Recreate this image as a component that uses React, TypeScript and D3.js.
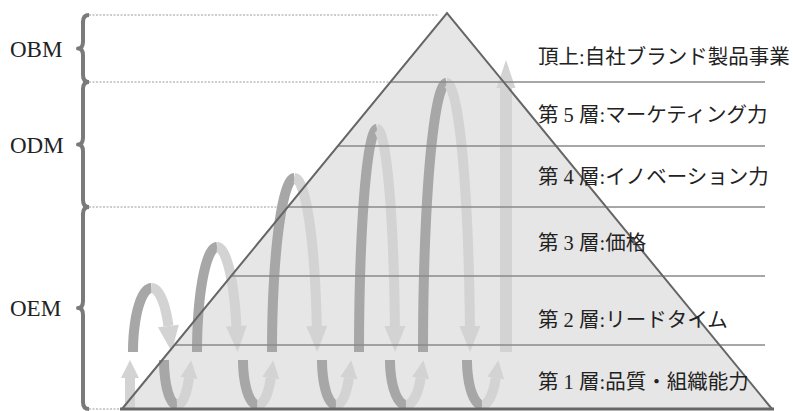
import React from "react";
import * as d3 from "d3";

const W = 793;
const H = 411;

// pyramid layers (heights above base, in diagram units)
const layerBoundaries = [64, 133, 202, 263, 327];
const layerLabels = [
  "第 1 層:品質・組織能力",
  "第 2 層:リードタイム",
  "第 3 層:価格",
  "第 4 層:イノベーション力",
  "第 5 層:マーケティング力",
  "頂上:自社ブランド製品事業",
];
const layerLabelLevels = [27, 89, 166, 232, 294, 352];

// business-model tiers on the left
const tierNames = ["OBM", "ODM", "OEM"];
const tierTops = [394, 327, 202];
const tierBottoms = [327, 202, 0];

// spiral loops: left leg x, right leg x, top level
const loopLeft = [11, 75, 150, 237, 301];
const loopRight = [48, 115, 195, 273, 348];
const loopTop = [121, 162, 231, 280, 326];
const loopBase = 57;

// bottom U-turns: dark (down) x, light (up) x
const uDown = [42, 121, 200, 268, 345];
const uUp = [68, 150, 228, 300, 375];
const uTop = 49;
const uBottom = 4;

// straight arrows
const startArrowX = 8;
const finalArrowX = 384;
const finalArrowTop = 349;

const DARK = "#a7a7a7";
const LIGHT = "#d3d3d3";
const SW = 10;

const x = d3.scaleLinear().domain([0, 650]).range([122, 772]);
const y = d3.scaleLinear().domain([0, 396]).range([409, 13]);
const apex = { x: x(325), y: y(396) };

function leftEdgeX(py: number) {
  const t = (py - apex.y) / (y(0) - apex.y);
  return apex.x + (x(0) - apex.x) * t;
}

const line = d3.line<[number, number]>();

function head(tipX: number, tipY: number, dirX: number, dirY: number, len: number, wid: number) {
  const n = Math.hypot(dirX, dirY);
  const ux = dirX / n, uy = dirY / n;
  const bx = tipX - ux * len, by = tipY - uy * len;
  const px = -uy, py = ux;
  return `M${tipX},${tipY}L${bx + px * wid / 2},${by + py * wid / 2}L${bx - px * wid / 2},${by - py * wid / 2}Z`;
}

function Loop({ i }: { i: number }) {
  const xl = x(loopLeft[i]), xr = x(loopRight[i]);
  const yb = y(loopBase), yt = y(loopTop[i]);
  const cx = (xl + xr) / 2, a = (xr - xl) / 2, h = yb - yt;
  const headLen = 26;
  const dark: [number, number][] = d3.range(0, 51).map((k) => {
    const th = (k / 50) * (Math.PI / 2);
    return [cx - a * Math.cos(th), yb - h * Math.sin(th)];
  });
  const thEnd = Math.PI - Math.asin(headLen / h);
  const light: [number, number][] = d3.range(0, 51).map((k) => {
    const th = Math.PI / 2 + (k / 50) * (thEnd - Math.PI / 2);
    return [cx - a * Math.cos(th), yb - h * Math.sin(th)];
  });
  const end = light[light.length - 1];
  const dx = a * Math.sin(thEnd), dy = -h * Math.cos(thEnd);
  const n = Math.hypot(dx, dy);
  const tip: [number, number] = [end[0] + (dx / n) * headLen, end[1] + (dy / n) * headLen];
  return (
    <g>
      <path d={line(dark) || ""} fill="none" stroke={DARK} strokeWidth={SW} />
      <path d={line(light) || ""} fill="none" stroke={LIGHT} strokeWidth={SW} />
      <path d={head(tip[0], tip[1], dx, dy, headLen, 21)} fill={LIGHT} />
    </g>
  );
}

function UTurn({ i }: { i: number }) {
  const xd = x(uDown[i]), xu = x(uUp[i]);
  const yt = y(uTop), yb = y(uBottom);
  const cx = (xd + xu) / 2, a = (xu - xd) / 2, d = yb - yt;
  const headLen = 18;
  const dark: [number, number][] = d3.range(0, 41).map((k) => {
    const th = (k / 40) * (Math.PI / 2);
    return [cx - a * Math.cos(th), yt + d * Math.sin(th)];
  });
  const thEnd = Math.PI - Math.asin(headLen / d);
  const light: [number, number][] = d3.range(0, 41).map((k) => {
    const th = Math.PI / 2 + (k / 40) * (thEnd - Math.PI / 2);
    return [cx - a * Math.cos(th), yt + d * Math.sin(th)];
  });
  const end = light[light.length - 1];
  const dx = a * Math.sin(thEnd), dy = d * Math.cos(thEnd);
  const n = Math.hypot(dx, dy);
  const tip: [number, number] = [end[0] + (dx / n) * headLen, end[1] + (dy / n) * headLen];
  return (
    <g>
      <path d={line(dark) || ""} fill="none" stroke={DARK} strokeWidth={SW} />
      <path d={line(light) || ""} fill="none" stroke={LIGHT} strokeWidth={SW} />
      <path d={head(tip[0], tip[1], dx, dy, headLen, 17)} fill={LIGHT} />
    </g>
  );
}

function Brace({ top, bottom }: { top: number; bottom: number }) {
  const y0 = y(top), y1 = y(bottom), mid = (y0 + y1) / 2;
  const sx = 83, tx = 78, ex = 89;
  const d = `M${ex},${y0} Q${sx},${y0} ${sx},${y0 + 7} L${sx},${mid - 7} Q${sx},${mid} ${tx},${mid} Q${sx},${mid} ${sx},${mid + 7} L${sx},${y1 - 7} Q${sx},${y1} ${ex},${y1}`;
  return <path d={d} fill="none" stroke="#7a7a7a" strokeWidth={4} strokeLinejoin="round" />;
}

export default function App() {
  const baseY = y(0);
  const labelFont = "'Liberation Serif', 'Noto Sans CJK JP', serif";
  const dottedLevels = [394, 327, 202, 0];
  return (
    <svg
      width={W}
      height={H}
      style={{ position: "fixed", left: 0, top: 0, background: "#fff" }}
    >
      {/* pyramid fill */}
      <path
        d={`M${x(0)},${baseY}L${apex.x},${apex.y}L${x(650)},${baseY}Z`}
        fill="#e6e6e6"
      />
      {/* dotted guide lines */}
      {dottedLevels.map((lv, i) => {
        const py = y(lv);
        const endX = i === 0 ? apex.x - 8 : leftEdgeX(py);
        return (
          <line key={i} x1={89} x2={endX} y1={py} y2={py} stroke="#9a9a9a" strokeWidth={1} strokeDasharray="2,1.5" />
        );
      })}
      {/* braces */}
      {tierNames.map((t, i) => (
        <Brace key={t} top={tierTops[i]} bottom={tierBottoms[i]} />
      ))}
      {tierNames.map((t, i) => (
        <text
          key={t}
          x={10}
          y={(y(tierTops[i]) + y(tierBottoms[i])) / 2 + 8}
          fontFamily="'Liberation Serif', serif"
          fontSize={23}
          fill="#222"
        >
          {t}
        </text>
      ))}
      {/* arrows */}
      <g>
        <line x1={x(startArrowX)} x2={x(startArrowX)} y1={baseY} y2={y(uTop) + 16} stroke={LIGHT} strokeWidth={SW} />
        <path d={head(x(startArrowX), y(uTop), 0, -1, 18, 18)} fill={LIGHT} />
        {uDown.map((_, i) => (
          <UTurn key={"u" + i} i={i} />
        ))}
        {loopLeft.map((_, i) => (
          <Loop key={"l" + i} i={i} />
        ))}
        <line x1={x(finalArrowX)} x2={x(finalArrowX)} y1={y(loopBase)} y2={y(finalArrowTop) + 26} stroke={LIGHT} strokeWidth={12} />
        <path d={head(x(finalArrowX), y(finalArrowTop), 0, -1, 28, 19)} fill={LIGHT} />
      </g>
      {/* layer lines */}
      {layerBoundaries.map((lv, i) => {
        const py = y(lv);
        return (
          <line key={i} x1={leftEdgeX(py)} x2={765} y1={py} y2={py} stroke="#8a8a8a" strokeWidth={1.5} />
        );
      })}
      {/* pyramid outline */}
      <path
        d={`M${x(0)},${baseY}L${apex.x},${apex.y}L${x(650)},${baseY}`}
        fill="none"
        stroke="#666"
        strokeWidth={2}
      />
      <line x1={x(0) - 2} x2={x(650) + 2} y1={baseY} y2={baseY} stroke="#666" strokeWidth={3} />
      {/* labels */}
      {layerLabels.map((t, i) => (
        <text
          key={t}
          x={538}
          y={y(layerLabelLevels[i])}
          dominantBaseline="central"
          fontFamily={labelFont}
          fontSize={20.5}
          fill="#222"
        >
          {t}
        </text>
      ))}
    </svg>
  );
}
